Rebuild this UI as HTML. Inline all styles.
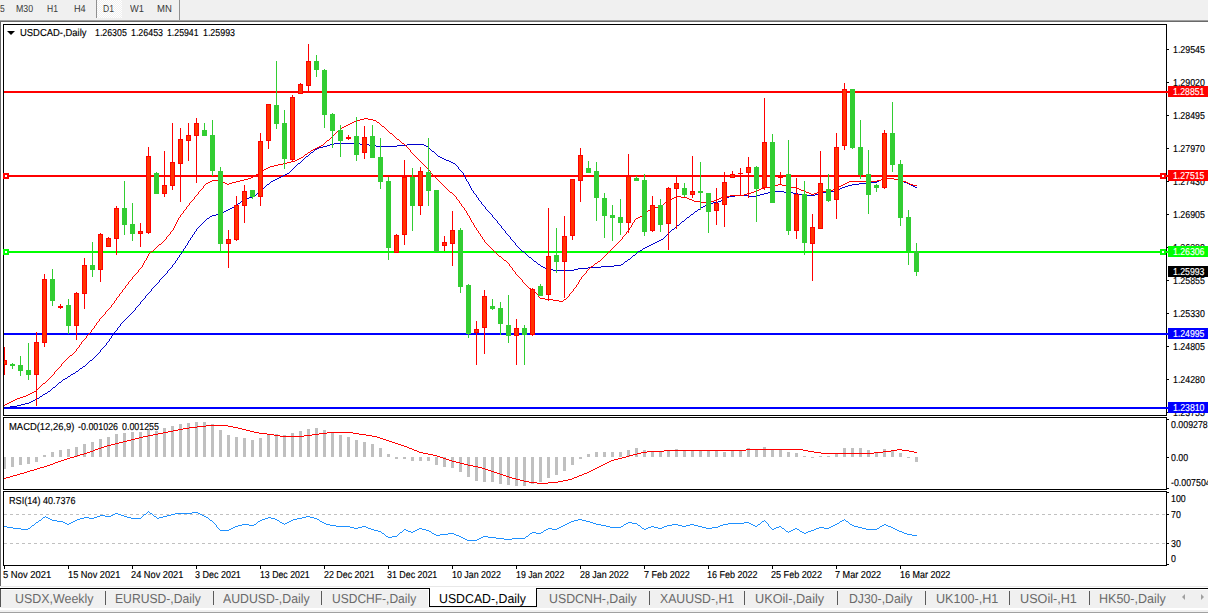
<!DOCTYPE html><html><head><meta charset="utf-8"><title>USDCAD-,Daily</title><style>
html,body{margin:0;padding:0;background:#fff;overflow:hidden}
body{width:1208px;height:615px;position:relative;font-family:"Liberation Sans",sans-serif;}
#toolbar{position:absolute;left:0;top:0;width:1208px;height:20px;background:#f0f0f0}
#tbline1{position:absolute;left:0;top:20px;width:1208px;height:1px;background:#a0a0a0}
#tbline2{position:absolute;left:0;top:21px;width:1208px;height:1px;background:#696969}
#lborder{position:absolute;left:0;top:22px;width:1px;height:564px;background:#696969}
.sep{position:absolute;top:0;width:1px;background:#909090}
#d1{position:absolute;left:97px;top:0;width:25px;height:18px;background:#f0f0f0 conic-gradient(#fff 25%,#f0f0f0 0 50%,#fff 0 75%,#f0f0f0 0) 0 0/2px 2px}
svg{position:absolute;left:0;top:0}
.t{position:absolute;white-space:pre;line-height:20px;height:20px;transform-origin:0 0;text-rendering:geometricPrecision}
.pl{position:absolute;left:1168px;width:40px;height:11px;z-index:2}
#tabbar{position:absolute;left:0;top:586px;width:1208px;height:29px;background:#f0f0f0}
#tabr586{position:absolute;left:0;top:586px;width:1208px;height:1px;background:#e8e8e8}
#tabr587{position:absolute;left:0;top:587px;width:1208px;height:1px;background:#fff}
#tabline{position:absolute;left:0;top:588px;width:1208px;height:1px;background:#000}
#tabr589{position:absolute;left:1px;top:589px;width:1207px;height:1px;background:#fff}
#tablow{position:absolute;left:0;top:608px;width:1208px;height:2px;background:#fff}
#tablow2{position:absolute;left:0;top:612px;width:1208px;height:1px;background:#a0a0a0}
#tablow3{position:absolute;left:0;top:613px;width:1208px;height:2px;background:#fff}
#tableft{position:absolute;left:0;top:589px;width:1px;height:18px;background:#555}
#active{position:absolute;left:429px;top:588px;width:106px;height:18px;background:#fff;border:1px solid #000;border-top:none}
#activehl{position:absolute;left:428px;top:589px;width:1px;height:18px;background:#fff}
.tsep{position:absolute;top:591px;width:1px;height:14px;background:#5a5a5a}
.arr{position:absolute;top:594px;width:0;height:0;border-top:3px solid transparent;border-bottom:3px solid transparent}

</style></head><body>
<div id="toolbar"><div class="sep" style="left:96px;height:18px"></div><div id="d1"></div><div class="sep" style="left:179px;height:20px"></div></div>
<div id="tbline1"></div><div id="tbline2"></div><div id="lborder"></div>
<svg width="1208" height="615" viewBox="0 0 1208 615" shape-rendering="crispEdges">
<rect x="4" y="91" width="1162" height="2" fill="#ff0000"/>
<rect x="4" y="175" width="1162" height="2" fill="#ff0000"/>
<rect x="4" y="251" width="1162" height="2" fill="#00ff00"/>
<rect x="4" y="333" width="1162" height="2" fill="#0000ff"/>
<rect x="4" y="407" width="1162" height="2" fill="#0000ff"/>
<path d="M334 143h26v1h-26zM330 144h4v1h-4zM360 144h9v1h-9zM407 144h17v1h-17zM327 145h3v1h-3zM369 145h7v1h-7zM397 145h10v1h-10zM424 145h2v1h-2zM323 146h4v1h-4zM376 146h21v1h-21zM426 146h2v1h-2zM319 147h4v1h-4zM428 147h1v1h-1zM317 148h2v1h-2zM429 148h1v1h-1zM315 149h2v1h-2zM430 149h1v1h-1zM314 150h1v1h-1zM431 150h1v1h-1zM313 151h1v1h-1zM432 151h2v1h-2zM311 152h2v1h-2zM434 152h1v1h-1zM310 153h1v1h-1zM435 153h1v1h-1zM309 154h1v1h-1zM436 154h1v1h-1zM308 155h1v1h-1zM437 155h1v1h-1zM306 156h2v1h-2zM438 156h2v1h-2zM305 157h1v1h-1zM440 157h2v1h-2zM304 158h1v1h-1zM442 158h2v1h-2zM303 159h1v1h-1zM444 159h2v1h-2zM302 160h1v1h-1zM446 160h3v1h-3zM301 161h1v1h-1zM449 161h2v1h-2zM300 162h1v1h-1zM451 162h2v1h-2zM298 163h2v1h-2zM453 163h2v1h-2zM297 164h1v1h-1zM455 164h1v1h-1zM296 165h1v1h-1zM456 165h1v1h-1zM295 166h1v1h-1zM457 166h1v1h-1zM294 167h1v1h-1zM458 167h1v2h-1zM293 168h1v1h-1zM292 169h1v1h-1zM459 169h1v1h-1zM291 170h1v1h-1zM460 170h1v1h-1zM290 171h1v1h-1zM461 171h1v1h-1zM289 172h1v1h-1zM462 172h1v1h-1zM287 173h2v1h-2zM463 173h1v2h-1zM285 174h2v1h-2zM283 175h2v1h-2zM464 175h1v2h-1zM281 176h2v1h-2zM279 177h2v1h-2zM465 177h1v2h-1zM277 178h2v1h-2zM886 178h8v1h-8zM275 179h2v1h-2zM466 179h1v2h-1zM881 179h5v1h-5zM894 179h5v1h-5zM273 180h2v1h-2zM879 180h2v1h-2zM899 180h2v1h-2zM271 181h2v1h-2zM467 181h1v1h-1zM877 181h2v1h-2zM901 181h3v1h-3zM270 182h1v1h-1zM468 182h1v2h-1zM870 182h7v1h-7zM904 182h3v1h-3zM269 183h1v1h-1zM859 183h11v1h-11zM907 183h2v1h-2zM267 184h2v1h-2zM469 184h1v2h-1zM852 184h7v1h-7zM909 184h2v1h-2zM266 185h1v1h-1zM848 185h4v1h-4zM911 185h2v1h-2zM265 186h1v1h-1zM470 186h1v2h-1zM845 186h3v1h-3zM913 186h2v1h-2zM264 187h1v1h-1zM842 187h3v1h-3zM915 187h2v1h-2zM262 188h2v1h-2zM471 188h1v2h-1zM840 188h2v1h-2zM261 189h1v1h-1zM838 189h2v1h-2zM260 190h1v1h-1zM472 190h1v1h-1zM836 190h2v1h-2zM259 191h1v1h-1zM473 191h1v2h-1zM774 191h10v1h-10zM830 191h6v1h-6zM258 192h1v1h-1zM768 192h6v1h-6zM784 192h9v1h-9zM823 192h7v1h-7zM257 193h1v1h-1zM474 193h1v1h-1zM764 193h4v1h-4zM793 193h5v1h-5zM819 193h4v1h-4zM256 194h1v1h-1zM475 194h1v1h-1zM760 194h4v1h-4zM798 194h8v1h-8zM815 194h4v1h-4zM255 195h1v1h-1zM476 195h1v2h-1zM735 195h13v1h-13zM757 195h3v1h-3zM806 195h9v1h-9zM253 196h2v1h-2zM729 196h6v1h-6zM748 196h9v1h-9zM249 197h4v1h-4zM477 197h1v1h-1zM727 197h2v1h-2zM247 198h2v1h-2zM478 198h1v2h-1zM725 198h2v1h-2zM245 199h2v1h-2zM723 199h2v1h-2zM243 200h2v1h-2zM479 200h1v1h-1zM721 200h2v1h-2zM241 201h2v1h-2zM480 201h1v1h-1zM718 201h3v1h-3zM240 202h1v1h-1zM481 202h1v2h-1zM713 202h5v1h-5zM238 203h2v1h-2zM709 203h4v1h-4zM237 204h1v1h-1zM482 204h1v1h-1zM707 204h2v1h-2zM235 205h2v1h-2zM483 205h1v1h-1zM705 205h2v1h-2zM234 206h1v1h-1zM484 206h1v1h-1zM703 206h2v1h-2zM232 207h2v1h-2zM485 207h1v2h-1zM701 207h2v1h-2zM230 208h2v1h-2zM700 208h1v1h-1zM228 209h2v1h-2zM486 209h1v1h-1zM698 209h2v1h-2zM226 210h2v1h-2zM487 210h1v1h-1zM697 210h1v1h-1zM224 211h2v1h-2zM488 211h1v1h-1zM695 211h2v1h-2zM222 212h2v1h-2zM489 212h1v1h-1zM694 212h1v1h-1zM220 213h2v1h-2zM490 213h1v1h-1zM693 213h1v1h-1zM216 214h4v1h-4zM491 214h1v1h-1zM691 214h2v1h-2zM212 215h4v1h-4zM492 215h1v2h-1zM690 215h1v1h-1zM210 216h2v1h-2zM689 216h1v1h-1zM209 217h1v1h-1zM493 217h1v1h-1zM687 217h2v1h-2zM207 218h2v1h-2zM494 218h1v1h-1zM686 218h1v1h-1zM206 219h1v1h-1zM495 219h1v1h-1zM685 219h1v1h-1zM205 220h1v1h-1zM496 220h1v1h-1zM684 220h1v1h-1zM204 221h1v1h-1zM497 221h1v2h-1zM682 221h2v1h-2zM203 222h1v1h-1zM681 222h1v1h-1zM202 223h1v1h-1zM498 223h1v1h-1zM680 223h1v1h-1zM201 224h1v1h-1zM499 224h1v1h-1zM679 224h1v1h-1zM200 225h1v1h-1zM500 225h1v1h-1zM677 225h2v1h-2zM199 226h1v1h-1zM501 226h1v2h-1zM676 226h1v1h-1zM198 227h1v1h-1zM675 227h1v1h-1zM197 228h1v1h-1zM502 228h1v1h-1zM674 228h1v1h-1zM196 229h1v2h-1zM503 229h1v1h-1zM672 229h2v1h-2zM504 230h1v1h-1zM671 230h1v1h-1zM195 231h1v1h-1zM505 231h1v2h-1zM670 231h1v1h-1zM194 232h1v2h-1zM669 232h1v1h-1zM506 233h1v1h-1zM668 233h1v1h-1zM193 234h1v1h-1zM507 234h1v1h-1zM667 234h1v1h-1zM192 235h1v2h-1zM508 235h1v1h-1zM666 235h1v1h-1zM509 236h1v1h-1zM665 236h1v1h-1zM191 237h1v1h-1zM510 237h1v2h-1zM664 237h1v1h-1zM190 238h1v2h-1zM663 238h1v1h-1zM511 239h1v1h-1zM661 239h2v1h-2zM189 240h1v1h-1zM512 240h1v1h-1zM659 240h2v1h-2zM188 241h1v2h-1zM513 241h1v1h-1zM657 241h2v1h-2zM514 242h1v1h-1zM655 242h2v1h-2zM187 243h1v2h-1zM515 243h1v2h-1zM653 243h2v1h-2zM651 244h2v1h-2zM186 245h1v1h-1zM516 245h1v1h-1zM649 245h2v1h-2zM185 246h1v2h-1zM517 246h1v1h-1zM647 246h2v1h-2zM518 247h1v1h-1zM645 247h2v1h-2zM184 248h1v1h-1zM519 248h1v1h-1zM643 248h2v1h-2zM183 249h1v2h-1zM520 249h1v1h-1zM642 249h1v1h-1zM521 250h1v1h-1zM640 250h2v1h-2zM182 251h1v1h-1zM522 251h2v1h-2zM638 251h2v1h-2zM181 252h1v2h-1zM524 252h1v1h-1zM637 252h1v1h-1zM525 253h1v1h-1zM636 253h1v1h-1zM180 254h1v1h-1zM526 254h1v1h-1zM635 254h1v1h-1zM179 255h1v2h-1zM527 255h1v1h-1zM633 255h2v1h-2zM528 256h1v1h-1zM632 256h1v1h-1zM178 257h1v1h-1zM529 257h2v1h-2zM631 257h1v1h-1zM177 258h1v2h-1zM531 258h1v1h-1zM630 258h1v1h-1zM532 259h1v1h-1zM628 259h2v1h-2zM176 260h1v1h-1zM533 260h1v1h-1zM627 260h1v1h-1zM175 261h1v2h-1zM534 261h2v1h-2zM625 261h2v1h-2zM536 262h1v1h-1zM624 262h1v1h-1zM174 263h1v1h-1zM537 263h1v1h-1zM623 263h1v1h-1zM173 264h1v1h-1zM538 264h2v1h-2zM621 264h2v1h-2zM172 265h1v2h-1zM540 265h1v1h-1zM614 265h7v1h-7zM541 266h2v1h-2zM601 266h13v1h-13zM171 267h1v1h-1zM543 267h2v1h-2zM588 267h13v1h-13zM170 268h1v1h-1zM545 268h3v1h-3zM578 268h10v1h-10zM169 269h1v1h-1zM548 269h5v1h-5zM574 269h4v1h-4zM168 270h1v1h-1zM553 270h21v1h-21zM167 271h1v2h-1zM166 273h1v1h-1zM165 274h1v1h-1zM164 275h1v1h-1zM163 276h1v1h-1zM162 277h1v1h-1zM161 278h1v1h-1zM160 279h1v1h-1zM159 280h1v2h-1zM158 282h1v1h-1zM157 283h1v1h-1zM156 284h1v1h-1zM155 285h1v1h-1zM154 286h1v1h-1zM153 287h1v1h-1zM152 288h1v1h-1zM151 289h1v2h-1zM150 291h1v1h-1zM149 292h1v1h-1zM148 293h1v1h-1zM147 294h1v1h-1zM146 295h1v1h-1zM145 296h1v2h-1zM144 298h1v1h-1zM143 299h1v1h-1zM142 300h1v1h-1zM141 301h1v1h-1zM140 302h1v2h-1zM139 304h1v1h-1zM138 305h1v1h-1zM137 306h1v1h-1zM136 307h1v1h-1zM135 308h1v2h-1zM134 310h1v1h-1zM133 311h1v1h-1zM132 312h1v1h-1zM131 313h1v1h-1zM130 314h1v1h-1zM129 315h1v1h-1zM128 316h1v1h-1zM127 317h1v1h-1zM126 318h1v1h-1zM125 319h1v1h-1zM124 320h1v1h-1zM123 321h1v1h-1zM122 322h1v1h-1zM121 323h1v1h-1zM120 324h1v2h-1zM119 326h1v1h-1zM118 327h1v1h-1zM117 328h1v2h-1zM116 330h1v1h-1zM115 331h1v1h-1zM114 332h1v2h-1zM113 334h1v1h-1zM112 335h1v1h-1zM111 336h1v2h-1zM110 338h1v1h-1zM109 339h1v2h-1zM108 341h1v1h-1zM107 342h1v1h-1zM106 343h1v2h-1zM105 345h1v1h-1zM104 346h1v1h-1zM103 347h1v1h-1zM102 348h1v1h-1zM101 349h1v1h-1zM100 350h1v2h-1zM99 352h1v1h-1zM98 353h1v1h-1zM97 354h1v1h-1zM96 355h1v1h-1zM95 356h1v1h-1zM94 357h1v1h-1zM93 358h1v1h-1zM92 359h1v1h-1zM90 360h2v1h-2zM89 361h1v1h-1zM88 362h1v1h-1zM87 363h1v1h-1zM86 364h1v1h-1zM85 365h1v1h-1zM83 366h2v1h-2zM82 367h1v1h-1zM80 368h2v1h-2zM79 369h1v1h-1zM78 370h1v1h-1zM76 371h2v1h-2zM75 372h1v1h-1zM73 373h2v1h-2zM71 374h2v1h-2zM70 375h1v1h-1zM68 376h2v1h-2zM67 377h1v1h-1zM65 378h2v1h-2zM63 379h2v1h-2zM62 380h1v1h-1zM61 381h1v1h-1zM59 382h2v1h-2zM58 383h1v1h-1zM57 384h1v1h-1zM56 385h1v1h-1zM55 386h1v1h-1zM53 387h2v1h-2zM52 388h1v1h-1zM51 389h1v1h-1zM50 390h1v1h-1zM48 391h2v1h-2zM47 392h1v1h-1zM45 393h2v1h-2zM43 394h2v1h-2zM42 395h1v1h-1zM40 396h2v1h-2zM39 397h1v1h-1zM37 398h2v1h-2zM35 399h2v1h-2zM33 400h2v1h-2zM31 401h2v1h-2zM29 402h2v1h-2zM25 403h4v1h-4zM21 404h4v1h-4zM17 405h4v1h-4zM10 406h7v1h-7zM4 407h6v1h-6z" fill="#0000cc"/>
<path d="M364 118h4v1h-4zM360 119h4v1h-4zM368 119h5v1h-5zM357 120h3v1h-3zM373 120h3v1h-3zM354 121h3v1h-3zM376 121h1v1h-1zM352 122h2v1h-2zM377 122h2v1h-2zM350 123h2v1h-2zM379 123h1v1h-1zM348 124h2v1h-2zM380 124h1v1h-1zM346 125h2v1h-2zM381 125h1v1h-1zM344 126h2v1h-2zM382 126h2v1h-2zM342 127h2v1h-2zM384 127h1v1h-1zM341 128h1v1h-1zM385 128h1v1h-1zM340 129h1v1h-1zM386 129h1v1h-1zM339 130h1v1h-1zM387 130h1v1h-1zM337 131h2v1h-2zM388 131h1v1h-1zM336 132h1v1h-1zM389 132h1v1h-1zM335 133h1v1h-1zM390 133h2v1h-2zM334 134h1v1h-1zM392 134h1v1h-1zM333 135h1v1h-1zM393 135h1v1h-1zM332 136h1v1h-1zM394 136h1v1h-1zM331 137h1v1h-1zM395 137h1v1h-1zM330 138h1v1h-1zM396 138h1v1h-1zM329 139h1v1h-1zM397 139h2v1h-2zM327 140h2v1h-2zM399 140h1v1h-1zM326 141h1v1h-1zM400 141h1v1h-1zM325 142h1v1h-1zM401 142h1v1h-1zM324 143h1v1h-1zM402 143h2v1h-2zM323 144h1v1h-1zM404 144h1v1h-1zM321 145h2v1h-2zM405 145h1v1h-1zM319 146h2v1h-2zM406 146h1v1h-1zM317 147h2v1h-2zM407 147h1v1h-1zM315 148h2v1h-2zM408 148h1v1h-1zM313 149h2v1h-2zM409 149h1v1h-1zM311 150h2v1h-2zM410 150h1v2h-1zM310 151h1v1h-1zM308 152h2v1h-2zM411 152h1v1h-1zM307 153h1v1h-1zM412 153h1v1h-1zM305 154h2v1h-2zM413 154h1v1h-1zM304 155h1v1h-1zM414 155h1v1h-1zM303 156h1v1h-1zM415 156h1v1h-1zM301 157h2v1h-2zM416 157h1v1h-1zM299 158h2v1h-2zM417 158h1v1h-1zM297 159h2v1h-2zM418 159h1v1h-1zM295 160h2v1h-2zM419 160h1v1h-1zM291 161h4v1h-4zM420 161h1v1h-1zM287 162h4v1h-4zM421 162h1v1h-1zM283 163h4v1h-4zM422 163h1v1h-1zM278 164h5v1h-5zM423 164h1v1h-1zM274 165h4v1h-4zM424 165h1v1h-1zM270 166h4v1h-4zM425 166h1v1h-1zM268 167h2v1h-2zM426 167h1v1h-1zM266 168h2v1h-2zM427 168h1v1h-1zM264 169h2v1h-2zM428 169h1v1h-1zM263 170h1v1h-1zM429 170h1v1h-1zM261 171h2v1h-2zM430 171h1v2h-1zM260 172h1v1h-1zM258 173h2v1h-2zM431 173h1v1h-1zM256 174h2v1h-2zM432 174h1v1h-1zM255 175h1v1h-1zM433 175h1v1h-1zM253 176h2v1h-2zM434 176h1v1h-1zM251 177h2v1h-2zM435 177h1v1h-1zM248 178h3v1h-3zM436 178h1v1h-1zM886 178h8v1h-8zM244 179h4v1h-4zM437 179h1v1h-1zM881 179h5v1h-5zM894 179h5v1h-5zM212 180h9v1h-9zM240 180h4v1h-4zM438 180h1v1h-1zM877 180h4v1h-4zM899 180h4v1h-4zM210 181h2v1h-2zM221 181h2v1h-2zM236 181h4v1h-4zM439 181h1v1h-1zM849 181h28v1h-28zM903 181h3v1h-3zM208 182h2v1h-2zM223 182h2v1h-2zM232 182h4v1h-4zM440 182h1v1h-1zM847 182h2v1h-2zM906 182h2v1h-2zM206 183h2v1h-2zM225 183h2v1h-2zM229 183h3v1h-3zM441 183h1v1h-1zM845 183h2v1h-2zM908 183h2v1h-2zM205 184h1v1h-1zM227 184h2v1h-2zM442 184h1v1h-1zM778 184h4v1h-4zM843 184h2v1h-2zM910 184h3v1h-3zM204 185h1v1h-1zM443 185h1v1h-1zM774 185h4v1h-4zM782 185h4v1h-4zM841 185h2v1h-2zM913 185h4v1h-4zM203 186h1v2h-1zM444 186h1v1h-1zM770 186h4v1h-4zM786 186h5v1h-5zM839 186h2v1h-2zM445 187h1v1h-1zM765 187h5v1h-5zM791 187h6v1h-6zM837 187h2v1h-2zM202 188h1v1h-1zM446 188h1v1h-1zM761 188h4v1h-4zM797 188h2v1h-2zM835 188h2v1h-2zM201 189h1v1h-1zM447 189h1v1h-1zM759 189h2v1h-2zM799 189h2v1h-2zM833 189h2v1h-2zM200 190h1v1h-1zM448 190h1v1h-1zM756 190h3v1h-3zM801 190h3v1h-3zM827 190h6v1h-6zM199 191h1v1h-1zM449 191h1v1h-1zM754 191h2v1h-2zM804 191h2v1h-2zM821 191h6v1h-6zM198 192h1v2h-1zM450 192h2v1h-2zM751 192h3v1h-3zM806 192h3v1h-3zM817 192h4v1h-4zM452 193h1v1h-1zM747 193h4v1h-4zM809 193h2v1h-2zM814 193h3v1h-3zM197 194h1v1h-1zM453 194h1v1h-1zM744 194h3v1h-3zM811 194h3v1h-3zM196 195h1v1h-1zM454 195h1v1h-1zM730 195h14v1h-14zM195 196h1v1h-1zM455 196h1v1h-1zM676 196h5v1h-5zM725 196h5v1h-5zM194 197h1v2h-1zM456 197h1v2h-1zM674 197h2v1h-2zM681 197h6v1h-6zM721 197h4v1h-4zM672 198h2v1h-2zM687 198h2v1h-2zM719 198h2v1h-2zM193 199h1v1h-1zM457 199h1v1h-1zM670 199h2v1h-2zM689 199h3v1h-3zM716 199h3v1h-3zM192 200h1v1h-1zM458 200h1v1h-1zM668 200h2v1h-2zM692 200h2v1h-2zM714 200h2v1h-2zM191 201h1v1h-1zM459 201h1v2h-1zM667 201h1v1h-1zM694 201h6v1h-6zM709 201h5v1h-5zM190 202h1v1h-1zM665 202h2v1h-2zM700 202h9v1h-9zM189 203h1v2h-1zM460 203h1v1h-1zM664 203h1v1h-1zM461 204h1v2h-1zM663 204h1v1h-1zM188 205h1v1h-1zM661 205h2v1h-2zM187 206h1v1h-1zM462 206h1v1h-1zM659 206h2v1h-2zM186 207h1v2h-1zM463 207h1v1h-1zM655 207h4v1h-4zM464 208h1v2h-1zM652 208h3v1h-3zM185 209h1v1h-1zM650 209h2v1h-2zM184 210h1v1h-1zM465 210h1v1h-1zM648 210h2v1h-2zM183 211h1v2h-1zM466 211h1v2h-1zM647 211h1v1h-1zM646 212h1v1h-1zM182 213h1v1h-1zM467 213h1v2h-1zM644 213h2v1h-2zM181 214h1v1h-1zM643 214h1v1h-1zM180 215h1v2h-1zM468 215h1v1h-1zM642 215h1v1h-1zM469 216h1v2h-1zM640 216h2v1h-2zM179 217h1v1h-1zM638 217h2v1h-2zM178 218h1v2h-1zM470 218h1v2h-1zM636 218h2v1h-2zM635 219h1v1h-1zM177 220h1v2h-1zM471 220h1v2h-1zM634 220h1v2h-1zM176 222h1v2h-1zM472 222h1v1h-1zM633 222h1v1h-1zM473 223h1v2h-1zM632 223h1v2h-1zM175 224h1v2h-1zM474 225h1v2h-1zM631 225h1v2h-1zM174 226h1v2h-1zM475 227h1v1h-1zM630 227h1v1h-1zM173 228h1v2h-1zM476 228h1v2h-1zM629 228h1v2h-1zM172 230h1v1h-1zM477 230h1v1h-1zM628 230h1v1h-1zM171 231h1v1h-1zM478 231h1v2h-1zM627 231h1v1h-1zM170 232h1v2h-1zM626 232h1v2h-1zM479 233h1v1h-1zM169 234h1v1h-1zM480 234h1v2h-1zM625 234h1v1h-1zM168 235h1v1h-1zM624 235h1v1h-1zM167 236h1v1h-1zM481 236h1v1h-1zM623 236h1v1h-1zM166 237h1v2h-1zM482 237h1v2h-1zM622 237h1v2h-1zM165 239h1v1h-1zM483 239h1v1h-1zM621 239h1v1h-1zM164 240h1v1h-1zM484 240h1v2h-1zM620 240h1v1h-1zM163 241h1v1h-1zM619 241h1v1h-1zM162 242h1v1h-1zM485 242h1v1h-1zM618 242h1v1h-1zM161 243h1v1h-1zM486 243h1v1h-1zM617 243h1v1h-1zM159 244h2v1h-2zM487 244h1v1h-1zM616 244h1v1h-1zM158 245h1v1h-1zM488 245h1v1h-1zM615 245h1v1h-1zM157 246h1v1h-1zM489 246h1v1h-1zM614 246h1v1h-1zM156 247h1v1h-1zM490 247h1v1h-1zM613 247h1v1h-1zM155 248h1v1h-1zM491 248h1v1h-1zM612 248h1v1h-1zM154 249h1v1h-1zM492 249h1v1h-1zM611 249h1v1h-1zM153 250h1v1h-1zM493 250h1v1h-1zM610 250h1v1h-1zM151 251h2v1h-2zM494 251h1v1h-1zM609 251h1v1h-1zM150 252h1v1h-1zM495 252h1v1h-1zM608 252h1v1h-1zM149 253h1v1h-1zM496 253h1v1h-1zM607 253h1v1h-1zM148 254h1v2h-1zM497 254h1v1h-1zM606 254h1v1h-1zM498 255h1v1h-1zM605 255h1v1h-1zM147 256h1v2h-1zM499 256h2v1h-2zM604 256h1v1h-1zM501 257h1v1h-1zM603 257h1v1h-1zM146 258h1v2h-1zM502 258h1v1h-1zM602 258h1v1h-1zM503 259h1v1h-1zM601 259h1v1h-1zM145 260h1v1h-1zM504 260h2v1h-2zM600 260h1v1h-1zM144 261h1v2h-1zM506 261h1v1h-1zM598 261h2v1h-2zM507 262h1v1h-1zM597 262h1v1h-1zM143 263h1v2h-1zM508 263h1v1h-1zM595 263h2v1h-2zM509 264h1v2h-1zM594 264h1v1h-1zM142 265h1v2h-1zM593 265h1v1h-1zM510 266h1v1h-1zM591 266h2v1h-2zM141 267h1v1h-1zM511 267h1v1h-1zM590 267h1v1h-1zM140 268h1v1h-1zM512 268h1v2h-1zM589 268h1v1h-1zM139 269h1v1h-1zM588 269h1v1h-1zM138 270h1v2h-1zM513 270h1v1h-1zM587 270h1v1h-1zM514 271h1v1h-1zM586 271h1v2h-1zM137 272h1v1h-1zM515 272h1v2h-1zM136 273h1v1h-1zM585 273h1v1h-1zM135 274h1v1h-1zM516 274h1v1h-1zM584 274h1v1h-1zM134 275h1v1h-1zM517 275h1v1h-1zM583 275h1v1h-1zM133 276h1v1h-1zM518 276h1v1h-1zM582 276h1v1h-1zM132 277h1v2h-1zM519 277h1v1h-1zM581 277h1v2h-1zM520 278h1v1h-1zM131 279h1v1h-1zM521 279h1v1h-1zM580 279h1v1h-1zM130 280h1v1h-1zM522 280h1v2h-1zM579 280h1v2h-1zM129 281h1v1h-1zM128 282h1v2h-1zM523 282h1v1h-1zM578 282h1v2h-1zM524 283h1v1h-1zM127 284h1v1h-1zM525 284h1v1h-1zM577 284h1v1h-1zM126 285h1v1h-1zM526 285h1v1h-1zM576 285h1v2h-1zM125 286h1v2h-1zM527 286h1v1h-1zM528 287h1v1h-1zM575 287h1v1h-1zM124 288h1v1h-1zM529 288h2v1h-2zM574 288h1v1h-1zM123 289h1v1h-1zM531 289h1v1h-1zM573 289h1v2h-1zM122 290h1v2h-1zM532 290h1v1h-1zM533 291h2v1h-2zM572 291h1v1h-1zM121 292h1v1h-1zM535 292h1v1h-1zM571 292h1v1h-1zM120 293h1v1h-1zM536 293h1v1h-1zM570 293h1v1h-1zM119 294h1v2h-1zM537 294h1v1h-1zM569 294h1v2h-1zM538 295h1v2h-1zM118 296h1v1h-1zM568 296h1v1h-1zM117 297h1v1h-1zM539 297h1v1h-1zM567 297h1v1h-1zM116 298h1v2h-1zM540 298h5v1h-5zM566 298h1v1h-1zM545 299h8v1h-8zM564 299h2v1h-2zM115 300h1v1h-1zM553 300h6v1h-6zM563 300h1v1h-1zM114 301h1v2h-1zM559 301h4v1h-4zM113 303h1v1h-1zM112 304h1v1h-1zM111 305h1v2h-1zM110 307h1v1h-1zM109 308h1v1h-1zM108 309h1v1h-1zM107 310h1v1h-1zM106 311h1v1h-1zM105 312h1v2h-1zM104 314h1v1h-1zM103 315h1v1h-1zM102 316h1v1h-1zM101 317h1v1h-1zM100 318h1v1h-1zM99 319h1v2h-1zM98 321h1v1h-1zM97 322h1v1h-1zM96 323h1v2h-1zM95 325h1v1h-1zM94 326h1v2h-1zM93 328h1v1h-1zM92 329h1v1h-1zM91 330h1v2h-1zM90 332h1v1h-1zM89 333h1v1h-1zM88 334h1v1h-1zM87 335h1v1h-1zM86 336h1v2h-1zM85 338h1v1h-1zM84 339h1v1h-1zM83 340h1v1h-1zM82 341h1v1h-1zM81 342h1v2h-1zM80 344h1v1h-1zM79 345h1v2h-1zM78 347h1v1h-1zM77 348h1v1h-1zM76 349h1v2h-1zM75 351h1v1h-1zM74 352h1v1h-1zM73 353h1v1h-1zM72 354h1v1h-1zM70 355h2v1h-2zM69 356h1v1h-1zM68 357h1v1h-1zM67 358h1v1h-1zM66 359h1v1h-1zM65 360h1v1h-1zM64 361h1v1h-1zM63 362h1v1h-1zM62 363h1v1h-1zM61 364h1v2h-1zM60 366h1v1h-1zM59 367h1v1h-1zM58 368h1v1h-1zM57 369h1v1h-1zM56 370h1v1h-1zM55 371h1v1h-1zM54 372h1v2h-1zM53 374h1v1h-1zM52 375h1v1h-1zM51 376h1v1h-1zM50 377h1v1h-1zM49 378h1v1h-1zM48 379h1v1h-1zM47 380h1v1h-1zM46 381h1v1h-1zM45 382h1v1h-1zM43 383h2v1h-2zM42 384h1v1h-1zM41 385h1v1h-1zM40 386h1v1h-1zM39 387h1v1h-1zM38 388h1v1h-1zM37 389h1v1h-1zM36 390h1v1h-1zM34 391h2v1h-2zM32 392h2v1h-2zM30 393h2v1h-2zM28 394h2v1h-2zM26 395h2v1h-2zM23 396h3v1h-3zM20 397h3v1h-3zM17 398h3v1h-3zM15 399h2v1h-2zM13 400h2v1h-2zM11 401h2v1h-2zM9 402h2v1h-2zM7 403h2v1h-2zM5 404h2v1h-2zM4 405h1v1h-1z" fill="#ff0000"/>
<rect x="4" y="347" width="1" height="28" fill="#ff0000"/>
<rect x="4" y="360" width="3" height="5" fill="#ff0000"/>
<rect x="4" y="361" width="2" height="3" fill="#ff3300"/>
<rect x="12" y="363" width="1" height="6" fill="#32cd32"/>
<rect x="10" y="364" width="5" height="2" fill="#32cd32"/>
<rect x="20" y="356" width="1" height="20" fill="#32cd32"/>
<rect x="18" y="365" width="5" height="6" fill="#32cd32"/>
<rect x="28" y="343" width="1" height="37" fill="#32cd32"/>
<rect x="26" y="370" width="5" height="5" fill="#32cd32"/>
<rect x="36" y="332" width="1" height="74" fill="#ff0000"/>
<rect x="34" y="342" width="5" height="33" fill="#ff0000"/>
<rect x="35" y="343" width="3" height="31" fill="#ff3300"/>
<rect x="44" y="274" width="1" height="73" fill="#ff0000"/>
<rect x="42" y="279" width="5" height="64" fill="#ff0000"/>
<rect x="43" y="280" width="3" height="62" fill="#ff3300"/>
<rect x="52" y="269" width="1" height="37" fill="#32cd32"/>
<rect x="50" y="279" width="5" height="22" fill="#32cd32"/>
<rect x="60" y="304" width="1" height="5" fill="#ff0000"/>
<rect x="58" y="306" width="5" height="2" fill="#ff0000"/>
<rect x="68" y="299" width="1" height="35" fill="#32cd32"/>
<rect x="66" y="305" width="5" height="21" fill="#32cd32"/>
<rect x="76" y="292" width="1" height="48" fill="#ff0000"/>
<rect x="74" y="293" width="5" height="33" fill="#ff0000"/>
<rect x="75" y="294" width="3" height="31" fill="#ff3300"/>
<rect x="84" y="258" width="1" height="51" fill="#ff0000"/>
<rect x="82" y="265" width="5" height="29" fill="#ff0000"/>
<rect x="83" y="266" width="3" height="27" fill="#ff3300"/>
<rect x="92" y="242" width="1" height="35" fill="#32cd32"/>
<rect x="90" y="265" width="5" height="5" fill="#32cd32"/>
<rect x="100" y="233" width="1" height="49" fill="#ff0000"/>
<rect x="98" y="234" width="5" height="36" fill="#ff0000"/>
<rect x="99" y="235" width="3" height="34" fill="#ff3300"/>
<rect x="108" y="237" width="1" height="10" fill="#ff0000"/>
<rect x="106" y="238" width="5" height="9" fill="#ff0000"/>
<rect x="107" y="239" width="3" height="7" fill="#ff3300"/>
<rect x="116" y="206" width="1" height="49" fill="#ff0000"/>
<rect x="114" y="208" width="5" height="31" fill="#ff0000"/>
<rect x="115" y="209" width="3" height="29" fill="#ff3300"/>
<rect x="124" y="181" width="1" height="54" fill="#32cd32"/>
<rect x="122" y="208" width="5" height="17" fill="#32cd32"/>
<rect x="132" y="203" width="1" height="38" fill="#32cd32"/>
<rect x="130" y="224" width="5" height="10" fill="#32cd32"/>
<rect x="140" y="223" width="1" height="24" fill="#ff0000"/>
<rect x="138" y="231" width="5" height="3" fill="#ff0000"/>
<rect x="139" y="232" width="3" height="1" fill="#ff3300"/>
<rect x="148" y="147" width="1" height="87" fill="#ff0000"/>
<rect x="146" y="156" width="5" height="77" fill="#ff0000"/>
<rect x="147" y="157" width="3" height="75" fill="#ff3300"/>
<rect x="156" y="172" width="1" height="22" fill="#32cd32"/>
<rect x="154" y="173" width="5" height="21" fill="#32cd32"/>
<rect x="164" y="151" width="1" height="46" fill="#ff0000"/>
<rect x="162" y="185" width="5" height="9" fill="#ff0000"/>
<rect x="163" y="186" width="3" height="7" fill="#ff3300"/>
<rect x="172" y="123" width="1" height="67" fill="#ff0000"/>
<rect x="170" y="162" width="5" height="24" fill="#ff0000"/>
<rect x="171" y="163" width="3" height="22" fill="#ff3300"/>
<rect x="180" y="128" width="1" height="74" fill="#ff0000"/>
<rect x="178" y="139" width="5" height="25" fill="#ff0000"/>
<rect x="179" y="140" width="3" height="23" fill="#ff3300"/>
<rect x="188" y="123" width="1" height="38" fill="#ff0000"/>
<rect x="186" y="135" width="5" height="6" fill="#ff0000"/>
<rect x="187" y="136" width="3" height="4" fill="#ff3300"/>
<rect x="196" y="118" width="1" height="65" fill="#ff0000"/>
<rect x="194" y="123" width="5" height="13" fill="#ff0000"/>
<rect x="195" y="124" width="3" height="11" fill="#ff3300"/>
<rect x="204" y="123" width="1" height="13" fill="#32cd32"/>
<rect x="202" y="130" width="5" height="6" fill="#32cd32"/>
<rect x="212" y="120" width="1" height="56" fill="#32cd32"/>
<rect x="210" y="135" width="5" height="36" fill="#32cd32"/>
<rect x="220" y="167" width="1" height="85" fill="#32cd32"/>
<rect x="218" y="171" width="5" height="73" fill="#32cd32"/>
<rect x="228" y="230" width="1" height="38" fill="#ff0000"/>
<rect x="226" y="239" width="5" height="5" fill="#ff0000"/>
<rect x="227" y="240" width="3" height="3" fill="#ff3300"/>
<rect x="236" y="196" width="1" height="45" fill="#ff0000"/>
<rect x="234" y="205" width="5" height="35" fill="#ff0000"/>
<rect x="235" y="206" width="3" height="33" fill="#ff3300"/>
<rect x="244" y="185" width="1" height="38" fill="#ff0000"/>
<rect x="242" y="191" width="5" height="15" fill="#ff0000"/>
<rect x="243" y="192" width="3" height="13" fill="#ff3300"/>
<rect x="252" y="190" width="1" height="9" fill="#32cd32"/>
<rect x="250" y="190" width="5" height="7" fill="#32cd32"/>
<rect x="260" y="133" width="1" height="73" fill="#ff0000"/>
<rect x="258" y="141" width="5" height="56" fill="#ff0000"/>
<rect x="259" y="142" width="3" height="54" fill="#ff3300"/>
<rect x="268" y="104" width="1" height="45" fill="#ff0000"/>
<rect x="266" y="104" width="5" height="37" fill="#ff0000"/>
<rect x="267" y="105" width="3" height="35" fill="#ff3300"/>
<rect x="276" y="61" width="1" height="68" fill="#32cd32"/>
<rect x="274" y="105" width="5" height="19" fill="#32cd32"/>
<rect x="284" y="110" width="1" height="59" fill="#32cd32"/>
<rect x="282" y="123" width="5" height="36" fill="#32cd32"/>
<rect x="292" y="95" width="1" height="66" fill="#ff0000"/>
<rect x="290" y="97" width="5" height="63" fill="#ff0000"/>
<rect x="291" y="98" width="3" height="61" fill="#ff3300"/>
<rect x="300" y="83" width="1" height="11" fill="#ff0000"/>
<rect x="298" y="84" width="5" height="10" fill="#ff0000"/>
<rect x="299" y="85" width="3" height="8" fill="#ff3300"/>
<rect x="308" y="44" width="1" height="47" fill="#ff0000"/>
<rect x="306" y="61" width="5" height="25" fill="#ff0000"/>
<rect x="307" y="62" width="3" height="23" fill="#ff3300"/>
<rect x="316" y="55" width="1" height="22" fill="#32cd32"/>
<rect x="314" y="61" width="5" height="9" fill="#32cd32"/>
<rect x="324" y="69" width="1" height="59" fill="#32cd32"/>
<rect x="322" y="70" width="5" height="45" fill="#32cd32"/>
<rect x="332" y="113" width="1" height="35" fill="#32cd32"/>
<rect x="330" y="114" width="5" height="17" fill="#32cd32"/>
<rect x="340" y="125" width="1" height="32" fill="#32cd32"/>
<rect x="338" y="130" width="5" height="11" fill="#32cd32"/>
<rect x="348" y="135" width="1" height="5" fill="#ff0000"/>
<rect x="346" y="137" width="5" height="2" fill="#ff0000"/>
<rect x="356" y="117" width="1" height="44" fill="#32cd32"/>
<rect x="354" y="136" width="5" height="19" fill="#32cd32"/>
<rect x="364" y="126" width="1" height="33" fill="#ff0000"/>
<rect x="362" y="137" width="5" height="16" fill="#ff0000"/>
<rect x="363" y="138" width="3" height="14" fill="#ff3300"/>
<rect x="372" y="125" width="1" height="33" fill="#32cd32"/>
<rect x="370" y="136" width="5" height="22" fill="#32cd32"/>
<rect x="380" y="138" width="1" height="51" fill="#32cd32"/>
<rect x="378" y="157" width="5" height="25" fill="#32cd32"/>
<rect x="388" y="177" width="1" height="83" fill="#32cd32"/>
<rect x="386" y="181" width="5" height="67" fill="#32cd32"/>
<rect x="396" y="234" width="1" height="19" fill="#ff0000"/>
<rect x="394" y="235" width="5" height="18" fill="#ff0000"/>
<rect x="395" y="236" width="3" height="16" fill="#ff3300"/>
<rect x="404" y="160" width="1" height="85" fill="#ff0000"/>
<rect x="402" y="177" width="5" height="58" fill="#ff0000"/>
<rect x="403" y="178" width="3" height="56" fill="#ff3300"/>
<rect x="412" y="168" width="1" height="63" fill="#32cd32"/>
<rect x="410" y="177" width="5" height="29" fill="#32cd32"/>
<rect x="420" y="167" width="1" height="48" fill="#ff0000"/>
<rect x="418" y="171" width="5" height="35" fill="#ff0000"/>
<rect x="419" y="172" width="3" height="33" fill="#ff3300"/>
<rect x="428" y="138" width="1" height="68" fill="#32cd32"/>
<rect x="426" y="172" width="5" height="19" fill="#32cd32"/>
<rect x="436" y="190" width="1" height="62" fill="#32cd32"/>
<rect x="434" y="190" width="5" height="62" fill="#32cd32"/>
<rect x="444" y="236" width="1" height="15" fill="#ff0000"/>
<rect x="442" y="242" width="5" height="4" fill="#ff0000"/>
<rect x="443" y="243" width="3" height="2" fill="#ff3300"/>
<rect x="452" y="211" width="1" height="55" fill="#ff0000"/>
<rect x="450" y="230" width="5" height="14" fill="#ff0000"/>
<rect x="451" y="231" width="3" height="12" fill="#ff3300"/>
<rect x="460" y="228" width="1" height="65" fill="#32cd32"/>
<rect x="458" y="230" width="5" height="57" fill="#32cd32"/>
<rect x="468" y="284" width="1" height="54" fill="#32cd32"/>
<rect x="466" y="285" width="5" height="49" fill="#32cd32"/>
<rect x="476" y="321" width="1" height="44" fill="#ff0000"/>
<rect x="474" y="329" width="5" height="4" fill="#ff0000"/>
<rect x="475" y="330" width="3" height="2" fill="#ff3300"/>
<rect x="484" y="290" width="1" height="64" fill="#ff0000"/>
<rect x="482" y="296" width="5" height="32" fill="#ff0000"/>
<rect x="483" y="297" width="3" height="30" fill="#ff3300"/>
<rect x="492" y="299" width="1" height="11" fill="#32cd32"/>
<rect x="490" y="306" width="5" height="3" fill="#32cd32"/>
<rect x="500" y="302" width="1" height="33" fill="#32cd32"/>
<rect x="498" y="308" width="5" height="16" fill="#32cd32"/>
<rect x="508" y="295" width="1" height="48" fill="#32cd32"/>
<rect x="506" y="325" width="5" height="11" fill="#32cd32"/>
<rect x="516" y="319" width="1" height="46" fill="#ff0000"/>
<rect x="514" y="328" width="5" height="8" fill="#ff0000"/>
<rect x="515" y="329" width="3" height="6" fill="#ff3300"/>
<rect x="524" y="325" width="1" height="40" fill="#32cd32"/>
<rect x="522" y="328" width="5" height="7" fill="#32cd32"/>
<rect x="532" y="288" width="1" height="48" fill="#ff0000"/>
<rect x="530" y="289" width="5" height="46" fill="#ff0000"/>
<rect x="531" y="290" width="3" height="44" fill="#ff3300"/>
<rect x="540" y="284" width="1" height="12" fill="#32cd32"/>
<rect x="538" y="286" width="5" height="10" fill="#32cd32"/>
<rect x="548" y="208" width="1" height="93" fill="#ff0000"/>
<rect x="546" y="256" width="5" height="39" fill="#ff0000"/>
<rect x="547" y="257" width="3" height="37" fill="#ff3300"/>
<rect x="556" y="228" width="1" height="45" fill="#32cd32"/>
<rect x="554" y="255" width="5" height="7" fill="#32cd32"/>
<rect x="564" y="216" width="1" height="82" fill="#ff0000"/>
<rect x="562" y="236" width="5" height="26" fill="#ff0000"/>
<rect x="563" y="237" width="3" height="24" fill="#ff3300"/>
<rect x="572" y="179" width="1" height="61" fill="#ff0000"/>
<rect x="570" y="179" width="5" height="57" fill="#ff0000"/>
<rect x="571" y="180" width="3" height="55" fill="#ff3300"/>
<rect x="580" y="148" width="1" height="54" fill="#ff0000"/>
<rect x="578" y="155" width="5" height="26" fill="#ff0000"/>
<rect x="579" y="156" width="3" height="24" fill="#ff3300"/>
<rect x="588" y="161" width="1" height="12" fill="#32cd32"/>
<rect x="586" y="168" width="5" height="5" fill="#32cd32"/>
<rect x="596" y="162" width="1" height="59" fill="#32cd32"/>
<rect x="594" y="171" width="5" height="27" fill="#32cd32"/>
<rect x="604" y="193" width="1" height="45" fill="#32cd32"/>
<rect x="602" y="198" width="5" height="18" fill="#32cd32"/>
<rect x="612" y="205" width="1" height="36" fill="#32cd32"/>
<rect x="610" y="215" width="5" height="3" fill="#32cd32"/>
<rect x="620" y="199" width="1" height="36" fill="#32cd32"/>
<rect x="618" y="217" width="5" height="6" fill="#32cd32"/>
<rect x="628" y="154" width="1" height="79" fill="#ff0000"/>
<rect x="626" y="176" width="5" height="47" fill="#ff0000"/>
<rect x="627" y="177" width="3" height="45" fill="#ff3300"/>
<rect x="636" y="176" width="1" height="5" fill="#32cd32"/>
<rect x="634" y="178" width="5" height="3" fill="#32cd32"/>
<rect x="644" y="174" width="1" height="62" fill="#32cd32"/>
<rect x="642" y="180" width="5" height="52" fill="#32cd32"/>
<rect x="652" y="196" width="1" height="36" fill="#ff0000"/>
<rect x="650" y="205" width="5" height="26" fill="#ff0000"/>
<rect x="651" y="206" width="3" height="24" fill="#ff3300"/>
<rect x="660" y="199" width="1" height="33" fill="#32cd32"/>
<rect x="658" y="205" width="5" height="20" fill="#32cd32"/>
<rect x="668" y="187" width="1" height="63" fill="#ff0000"/>
<rect x="666" y="188" width="5" height="36" fill="#ff0000"/>
<rect x="667" y="189" width="3" height="34" fill="#ff3300"/>
<rect x="676" y="176" width="1" height="53" fill="#ff0000"/>
<rect x="674" y="183" width="5" height="6" fill="#ff0000"/>
<rect x="675" y="184" width="3" height="4" fill="#ff3300"/>
<rect x="684" y="183" width="1" height="14" fill="#32cd32"/>
<rect x="682" y="188" width="5" height="7" fill="#32cd32"/>
<rect x="692" y="156" width="1" height="42" fill="#ff0000"/>
<rect x="690" y="191" width="5" height="4" fill="#ff0000"/>
<rect x="691" y="192" width="3" height="2" fill="#ff3300"/>
<rect x="700" y="162" width="1" height="48" fill="#32cd32"/>
<rect x="698" y="191" width="5" height="2" fill="#32cd32"/>
<rect x="708" y="193" width="1" height="40" fill="#32cd32"/>
<rect x="706" y="193" width="5" height="19" fill="#32cd32"/>
<rect x="716" y="188" width="1" height="37" fill="#ff0000"/>
<rect x="714" y="203" width="5" height="8" fill="#ff0000"/>
<rect x="715" y="204" width="3" height="6" fill="#ff3300"/>
<rect x="724" y="172" width="1" height="55" fill="#ff0000"/>
<rect x="722" y="182" width="5" height="23" fill="#ff0000"/>
<rect x="723" y="183" width="3" height="21" fill="#ff3300"/>
<rect x="732" y="171" width="1" height="7" fill="#ff0000"/>
<rect x="730" y="174" width="5" height="4" fill="#ff0000"/>
<rect x="731" y="175" width="3" height="2" fill="#ff3300"/>
<rect x="740" y="168" width="1" height="28" fill="#ff0000"/>
<rect x="738" y="173" width="5" height="1" fill="#ff0000"/>
<rect x="748" y="157" width="1" height="41" fill="#ff0000"/>
<rect x="746" y="167" width="5" height="6" fill="#ff0000"/>
<rect x="747" y="168" width="3" height="4" fill="#ff3300"/>
<rect x="756" y="166" width="1" height="56" fill="#32cd32"/>
<rect x="754" y="167" width="5" height="22" fill="#32cd32"/>
<rect x="764" y="98" width="1" height="92" fill="#ff0000"/>
<rect x="762" y="142" width="5" height="46" fill="#ff0000"/>
<rect x="763" y="143" width="3" height="44" fill="#ff3300"/>
<rect x="772" y="134" width="1" height="69" fill="#32cd32"/>
<rect x="770" y="142" width="5" height="61" fill="#32cd32"/>
<rect x="780" y="172" width="1" height="12" fill="#ff0000"/>
<rect x="778" y="176" width="5" height="2" fill="#ff0000"/>
<rect x="788" y="140" width="1" height="95" fill="#32cd32"/>
<rect x="786" y="174" width="5" height="57" fill="#32cd32"/>
<rect x="796" y="178" width="1" height="61" fill="#ff0000"/>
<rect x="794" y="194" width="5" height="37" fill="#ff0000"/>
<rect x="795" y="195" width="3" height="35" fill="#ff3300"/>
<rect x="804" y="181" width="1" height="74" fill="#32cd32"/>
<rect x="802" y="194" width="5" height="49" fill="#32cd32"/>
<rect x="812" y="214" width="1" height="67" fill="#ff0000"/>
<rect x="810" y="227" width="5" height="17" fill="#ff0000"/>
<rect x="811" y="228" width="3" height="15" fill="#ff3300"/>
<rect x="820" y="151" width="1" height="78" fill="#ff0000"/>
<rect x="818" y="183" width="5" height="46" fill="#ff0000"/>
<rect x="819" y="184" width="3" height="44" fill="#ff3300"/>
<rect x="828" y="174" width="1" height="28" fill="#32cd32"/>
<rect x="826" y="189" width="5" height="12" fill="#32cd32"/>
<rect x="836" y="133" width="1" height="86" fill="#ff0000"/>
<rect x="834" y="147" width="5" height="53" fill="#ff0000"/>
<rect x="835" y="148" width="3" height="51" fill="#ff3300"/>
<rect x="844" y="83" width="1" height="67" fill="#ff0000"/>
<rect x="842" y="89" width="5" height="57" fill="#ff0000"/>
<rect x="843" y="90" width="3" height="55" fill="#ff3300"/>
<rect x="852" y="89" width="1" height="60" fill="#32cd32"/>
<rect x="850" y="89" width="5" height="59" fill="#32cd32"/>
<rect x="860" y="120" width="1" height="59" fill="#32cd32"/>
<rect x="858" y="147" width="5" height="28" fill="#32cd32"/>
<rect x="868" y="150" width="1" height="64" fill="#32cd32"/>
<rect x="866" y="174" width="5" height="21" fill="#32cd32"/>
<rect x="876" y="184" width="1" height="8" fill="#32cd32"/>
<rect x="874" y="185" width="5" height="3" fill="#32cd32"/>
<rect x="884" y="130" width="1" height="59" fill="#ff0000"/>
<rect x="882" y="133" width="5" height="55" fill="#ff0000"/>
<rect x="883" y="134" width="3" height="53" fill="#ff3300"/>
<rect x="892" y="102" width="1" height="70" fill="#32cd32"/>
<rect x="890" y="133" width="5" height="32" fill="#32cd32"/>
<rect x="900" y="160" width="1" height="66" fill="#32cd32"/>
<rect x="898" y="164" width="5" height="54" fill="#32cd32"/>
<rect x="908" y="210" width="1" height="55" fill="#32cd32"/>
<rect x="906" y="217" width="5" height="34" fill="#32cd32"/>
<rect x="916" y="243" width="1" height="33" fill="#32cd32"/>
<rect x="914" y="251" width="5" height="21" fill="#32cd32"/>
<rect x="1160" y="173" width="6" height="6" fill="#ff0000"/><rect x="1162" y="175" width="2" height="2" fill="#fff"/>
<rect x="1160" y="249" width="6" height="6" fill="#00ff00"/><rect x="1162" y="251" width="2" height="2" fill="#fff"/>
<rect x="4" y="457" width="2" height="12" fill="#c0c0c0"/>
<rect x="11" y="457" width="3" height="10" fill="#c0c0c0"/>
<rect x="19" y="457" width="3" height="8" fill="#c0c0c0"/>
<rect x="27" y="457" width="3" height="7" fill="#c0c0c0"/>
<rect x="35" y="457" width="3" height="5" fill="#c0c0c0"/>
<rect x="43" y="455" width="3" height="2" fill="#c0c0c0"/>
<rect x="51" y="452" width="3" height="5" fill="#c0c0c0"/>
<rect x="59" y="450" width="3" height="7" fill="#c0c0c0"/>
<rect x="67" y="449" width="3" height="8" fill="#c0c0c0"/>
<rect x="75" y="447" width="3" height="10" fill="#c0c0c0"/>
<rect x="83" y="444" width="3" height="13" fill="#c0c0c0"/>
<rect x="91" y="442" width="3" height="15" fill="#c0c0c0"/>
<rect x="99" y="439" width="3" height="18" fill="#c0c0c0"/>
<rect x="107" y="437" width="3" height="20" fill="#c0c0c0"/>
<rect x="115" y="434" width="3" height="23" fill="#c0c0c0"/>
<rect x="123" y="433" width="3" height="24" fill="#c0c0c0"/>
<rect x="131" y="432" width="3" height="25" fill="#c0c0c0"/>
<rect x="139" y="432" width="3" height="25" fill="#c0c0c0"/>
<rect x="147" y="430" width="3" height="27" fill="#c0c0c0"/>
<rect x="155" y="431" width="3" height="26" fill="#c0c0c0"/>
<rect x="163" y="428" width="3" height="29" fill="#c0c0c0"/>
<rect x="171" y="426" width="3" height="31" fill="#c0c0c0"/>
<rect x="179" y="424" width="3" height="33" fill="#c0c0c0"/>
<rect x="187" y="423" width="3" height="34" fill="#c0c0c0"/>
<rect x="195" y="422" width="3" height="35" fill="#c0c0c0"/>
<rect x="203" y="422" width="3" height="35" fill="#c0c0c0"/>
<rect x="211" y="424" width="3" height="33" fill="#c0c0c0"/>
<rect x="219" y="430" width="3" height="27" fill="#c0c0c0"/>
<rect x="227" y="435" width="3" height="22" fill="#c0c0c0"/>
<rect x="235" y="437" width="3" height="20" fill="#c0c0c0"/>
<rect x="243" y="438" width="3" height="19" fill="#c0c0c0"/>
<rect x="251" y="440" width="3" height="17" fill="#c0c0c0"/>
<rect x="259" y="438" width="3" height="19" fill="#c0c0c0"/>
<rect x="267" y="435" width="3" height="22" fill="#c0c0c0"/>
<rect x="275" y="434" width="3" height="23" fill="#c0c0c0"/>
<rect x="283" y="435" width="3" height="22" fill="#c0c0c0"/>
<rect x="291" y="433" width="3" height="24" fill="#c0c0c0"/>
<rect x="299" y="431" width="3" height="26" fill="#c0c0c0"/>
<rect x="307" y="429" width="3" height="28" fill="#c0c0c0"/>
<rect x="315" y="428" width="3" height="29" fill="#c0c0c0"/>
<rect x="323" y="430" width="3" height="27" fill="#c0c0c0"/>
<rect x="331" y="433" width="3" height="24" fill="#c0c0c0"/>
<rect x="339" y="435" width="3" height="22" fill="#c0c0c0"/>
<rect x="347" y="437" width="3" height="20" fill="#c0c0c0"/>
<rect x="355" y="440" width="3" height="17" fill="#c0c0c0"/>
<rect x="363" y="442" width="3" height="15" fill="#c0c0c0"/>
<rect x="371" y="444" width="3" height="13" fill="#c0c0c0"/>
<rect x="379" y="448" width="3" height="9" fill="#c0c0c0"/>
<rect x="387" y="454" width="3" height="3" fill="#c0c0c0"/>
<rect x="395" y="457" width="3" height="2" fill="#c0c0c0"/>
<rect x="403" y="457" width="3" height="2" fill="#c0c0c0"/>
<rect x="411" y="457" width="3" height="4" fill="#c0c0c0"/>
<rect x="419" y="457" width="3" height="4" fill="#c0c0c0"/>
<rect x="427" y="457" width="3" height="4" fill="#c0c0c0"/>
<rect x="435" y="457" width="3" height="8" fill="#c0c0c0"/>
<rect x="443" y="457" width="3" height="10" fill="#c0c0c0"/>
<rect x="451" y="457" width="3" height="11" fill="#c0c0c0"/>
<rect x="459" y="457" width="3" height="15" fill="#c0c0c0"/>
<rect x="467" y="457" width="3" height="20" fill="#c0c0c0"/>
<rect x="475" y="457" width="3" height="24" fill="#c0c0c0"/>
<rect x="483" y="457" width="3" height="25" fill="#c0c0c0"/>
<rect x="491" y="457" width="3" height="25" fill="#c0c0c0"/>
<rect x="499" y="457" width="3" height="27" fill="#c0c0c0"/>
<rect x="507" y="457" width="3" height="28" fill="#c0c0c0"/>
<rect x="515" y="457" width="3" height="29" fill="#c0c0c0"/>
<rect x="523" y="457" width="3" height="29" fill="#c0c0c0"/>
<rect x="531" y="457" width="3" height="27" fill="#c0c0c0"/>
<rect x="539" y="457" width="3" height="25" fill="#c0c0c0"/>
<rect x="547" y="457" width="3" height="21" fill="#c0c0c0"/>
<rect x="555" y="457" width="3" height="18" fill="#c0c0c0"/>
<rect x="563" y="457" width="3" height="14" fill="#c0c0c0"/>
<rect x="571" y="457" width="3" height="8" fill="#c0c0c0"/>
<rect x="579" y="457" width="3" height="2" fill="#c0c0c0"/>
<rect x="587" y="454" width="3" height="3" fill="#c0c0c0"/>
<rect x="595" y="452" width="3" height="5" fill="#c0c0c0"/>
<rect x="603" y="452" width="3" height="5" fill="#c0c0c0"/>
<rect x="611" y="452" width="3" height="5" fill="#c0c0c0"/>
<rect x="619" y="452" width="3" height="5" fill="#c0c0c0"/>
<rect x="627" y="450" width="3" height="7" fill="#c0c0c0"/>
<rect x="635" y="448" width="3" height="9" fill="#c0c0c0"/>
<rect x="643" y="450" width="3" height="7" fill="#c0c0c0"/>
<rect x="651" y="451" width="3" height="6" fill="#c0c0c0"/>
<rect x="659" y="452" width="3" height="5" fill="#c0c0c0"/>
<rect x="667" y="451" width="3" height="6" fill="#c0c0c0"/>
<rect x="675" y="449" width="3" height="8" fill="#c0c0c0"/>
<rect x="683" y="450" width="3" height="7" fill="#c0c0c0"/>
<rect x="691" y="450" width="3" height="7" fill="#c0c0c0"/>
<rect x="699" y="450" width="3" height="7" fill="#c0c0c0"/>
<rect x="707" y="451" width="3" height="6" fill="#c0c0c0"/>
<rect x="715" y="451" width="3" height="6" fill="#c0c0c0"/>
<rect x="723" y="452" width="3" height="5" fill="#c0c0c0"/>
<rect x="731" y="451" width="3" height="6" fill="#c0c0c0"/>
<rect x="739" y="450" width="3" height="7" fill="#c0c0c0"/>
<rect x="747" y="448" width="3" height="9" fill="#c0c0c0"/>
<rect x="755" y="449" width="3" height="8" fill="#c0c0c0"/>
<rect x="763" y="447" width="3" height="10" fill="#c0c0c0"/>
<rect x="771" y="449" width="3" height="8" fill="#c0c0c0"/>
<rect x="779" y="450" width="3" height="7" fill="#c0c0c0"/>
<rect x="787" y="452" width="3" height="5" fill="#c0c0c0"/>
<rect x="795" y="453" width="3" height="4" fill="#c0c0c0"/>
<rect x="803" y="456" width="3" height="1" fill="#c0c0c0"/>
<rect x="811" y="457" width="3" height="1" fill="#c0c0c0"/>
<rect x="819" y="456" width="3" height="1" fill="#c0c0c0"/>
<rect x="827" y="456" width="3" height="1" fill="#c0c0c0"/>
<rect x="835" y="454" width="3" height="3" fill="#c0c0c0"/>
<rect x="843" y="448" width="3" height="9" fill="#c0c0c0"/>
<rect x="851" y="448" width="3" height="9" fill="#c0c0c0"/>
<rect x="859" y="448" width="3" height="9" fill="#c0c0c0"/>
<rect x="867" y="450" width="3" height="7" fill="#c0c0c0"/>
<rect x="875" y="452" width="3" height="5" fill="#c0c0c0"/>
<rect x="883" y="449" width="3" height="8" fill="#c0c0c0"/>
<rect x="891" y="451" width="3" height="6" fill="#c0c0c0"/>
<rect x="899" y="453" width="3" height="4" fill="#c0c0c0"/>
<rect x="907" y="457" width="3" height="1" fill="#c0c0c0"/>
<rect x="915" y="457" width="3" height="5" fill="#c0c0c0"/>
<path d="M206 425h22v1h-22zM197 426h9v1h-9zM228 426h5v1h-5zM189 427h8v1h-8zM233 427h5v1h-5zM183 428h6v1h-6zM238 428h4v1h-4zM178 429h5v1h-5zM242 429h4v1h-4zM173 430h5v1h-5zM246 430h4v1h-4zM168 431h5v1h-5zM250 431h4v1h-4zM163 432h5v1h-5zM254 432h5v1h-5zM327 432h26v1h-26zM158 433h5v1h-5zM259 433h8v1h-8zM319 433h8v1h-8zM353 433h6v1h-6zM153 434h5v1h-5zM267 434h7v1h-7zM312 434h7v1h-7zM359 434h7v1h-7zM148 435h5v1h-5zM274 435h6v1h-6zM304 435h8v1h-8zM366 435h6v1h-6zM143 436h5v1h-5zM280 436h24v1h-24zM372 436h5v1h-5zM139 437h4v1h-4zM377 437h3v1h-3zM135 438h4v1h-4zM380 438h3v1h-3zM131 439h4v1h-4zM383 439h3v1h-3zM127 440h4v1h-4zM386 440h3v1h-3zM123 441h4v1h-4zM389 441h3v1h-3zM119 442h4v1h-4zM392 442h3v1h-3zM115 443h4v1h-4zM395 443h3v1h-3zM111 444h4v1h-4zM398 444h3v1h-3zM107 445h4v1h-4zM401 445h3v1h-3zM104 446h3v1h-3zM404 446h3v1h-3zM101 447h3v1h-3zM407 447h2v1h-2zM98 448h3v1h-3zM409 448h3v1h-3zM95 449h3v1h-3zM412 449h2v1h-2zM746 449h57v1h-57zM897 449h5v1h-5zM93 450h2v1h-2zM414 450h3v1h-3zM664 450h82v1h-82zM803 450h5v1h-5zM891 450h6v1h-6zM902 450h7v1h-7zM90 451h3v1h-3zM417 451h2v1h-2zM647 451h17v1h-17zM808 451h6v1h-6zM883 451h8v1h-8zM909 451h5v1h-5zM87 452h3v1h-3zM419 452h4v1h-4zM641 452h6v1h-6zM814 452h7v1h-7zM874 452h9v1h-9zM914 452h3v1h-3zM84 453h3v1h-3zM423 453h5v1h-5zM637 453h4v1h-4zM821 453h53v1h-53zM80 454h4v1h-4zM428 454h5v1h-5zM633 454h4v1h-4zM77 455h3v1h-3zM433 455h4v1h-4zM629 455h4v1h-4zM74 456h3v1h-3zM437 456h3v1h-3zM626 456h3v1h-3zM70 457h4v1h-4zM440 457h3v1h-3zM622 457h4v1h-4zM67 458h3v1h-3zM443 458h3v1h-3zM618 458h4v1h-4zM64 459h3v1h-3zM446 459h3v1h-3zM614 459h4v1h-4zM61 460h3v1h-3zM449 460h3v1h-3zM611 460h3v1h-3zM58 461h3v1h-3zM452 461h4v1h-4zM609 461h2v1h-2zM55 462h3v1h-3zM456 462h4v1h-4zM607 462h2v1h-2zM53 463h2v1h-2zM460 463h4v1h-4zM605 463h2v1h-2zM50 464h3v1h-3zM464 464h4v1h-4zM603 464h2v1h-2zM47 465h3v1h-3zM468 465h5v1h-5zM601 465h2v1h-2zM44 466h3v1h-3zM473 466h5v1h-5zM599 466h2v1h-2zM40 467h4v1h-4zM478 467h4v1h-4zM597 467h2v1h-2zM37 468h3v1h-3zM482 468h3v1h-3zM595 468h2v1h-2zM34 469h3v1h-3zM485 469h3v1h-3zM593 469h2v1h-2zM30 470h4v1h-4zM488 470h3v1h-3zM591 470h2v1h-2zM27 471h3v1h-3zM491 471h3v1h-3zM589 471h2v1h-2zM24 472h3v1h-3zM494 472h3v1h-3zM587 472h2v1h-2zM20 473h4v1h-4zM497 473h3v1h-3zM584 473h3v1h-3zM17 474h3v1h-3zM500 474h3v1h-3zM582 474h2v1h-2zM13 475h4v1h-4zM503 475h3v1h-3zM579 475h3v1h-3zM10 476h3v1h-3zM506 476h3v1h-3zM577 476h2v1h-2zM6 477h4v1h-4zM509 477h3v1h-3zM574 477h3v1h-3zM4 478h2v1h-2zM512 478h4v1h-4zM572 478h2v1h-2zM516 479h4v1h-4zM568 479h4v1h-4zM520 480h4v1h-4zM563 480h5v1h-5zM524 481h5v1h-5zM558 481h5v1h-5zM529 482h8v1h-8zM548 482h10v1h-10zM537 483h11v1h-11z" fill="#ff0000"/>
<line x1="4" y1="514.5" x2="1166" y2="514.5" stroke="#c0c0c0" stroke-width="1" stroke-dasharray="3,3" shape-rendering="crispEdges"/>
<line x1="4" y1="543.5" x2="1166" y2="543.5" stroke="#c0c0c0" stroke-width="1" stroke-dasharray="3,3" shape-rendering="crispEdges"/>
<path d="M148 511h1v1h-1zM147 512h1v1h-1zM149 512h1v1h-1zM192 512h6v1h-6zM115 513h3v1h-3zM146 513h1v1h-1zM150 513h2v1h-2zM175 513h17v1h-17zM198 513h2v1h-2zM113 514h2v1h-2zM118 514h3v1h-3zM144 514h2v1h-2zM152 514h1v1h-1zM171 514h4v1h-4zM200 514h2v1h-2zM100 515h5v1h-5zM111 515h2v1h-2zM121 515h3v1h-3zM143 515h1v1h-1zM153 515h1v1h-1zM167 515h4v1h-4zM202 515h2v1h-2zM45 516h1v1h-1zM97 516h3v1h-3zM105 516h6v1h-6zM124 516h3v1h-3zM142 516h1v1h-1zM154 516h2v1h-2zM163 516h4v1h-4zM204 516h2v1h-2zM306 516h4v1h-4zM43 517h2v1h-2zM46 517h2v1h-2zM84 517h5v1h-5zM94 517h3v1h-3zM127 517h4v1h-4zM141 517h1v1h-1zM156 517h1v1h-1zM159 517h4v1h-4zM206 517h2v1h-2zM268 517h3v1h-3zM302 517h4v1h-4zM310 517h4v1h-4zM42 518h1v1h-1zM48 518h2v1h-2zM80 518h4v1h-4zM89 518h5v1h-5zM131 518h10v1h-10zM157 518h2v1h-2zM208 518h1v1h-1zM265 518h3v1h-3zM271 518h4v1h-4zM297 518h5v1h-5zM314 518h3v1h-3zM41 519h1v1h-1zM50 519h2v1h-2zM77 519h3v1h-3zM209 519h1v1h-1zM262 519h3v1h-3zM275 519h2v1h-2zM293 519h4v1h-4zM317 519h2v1h-2zM578 519h4v1h-4zM844 519h1v1h-1zM39 520h2v1h-2zM52 520h5v1h-5zM75 520h2v1h-2zM210 520h2v1h-2zM260 520h2v1h-2zM277 520h2v1h-2zM291 520h2v1h-2zM319 520h1v1h-1zM574 520h4v1h-4zM582 520h4v1h-4zM764 520h1v1h-1zM842 520h2v1h-2zM845 520h1v1h-1zM38 521h1v1h-1zM57 521h6v1h-6zM73 521h2v1h-2zM212 521h1v1h-1zM258 521h2v1h-2zM279 521h1v1h-1zM289 521h2v1h-2zM320 521h2v1h-2zM571 521h3v1h-3zM586 521h4v1h-4zM762 521h2v1h-2zM765 521h1v1h-1zM840 521h2v1h-2zM846 521h2v1h-2zM36 522h2v1h-2zM63 522h2v1h-2zM71 522h2v1h-2zM213 522h1v1h-1zM257 522h1v1h-1zM280 522h2v1h-2zM287 522h2v1h-2zM322 522h2v1h-2zM569 522h2v1h-2zM590 522h3v1h-3zM628 522h4v1h-4zM744 522h5v1h-5zM761 522h1v1h-1zM766 522h1v1h-1zM839 522h1v1h-1zM848 522h1v1h-1zM35 523h1v1h-1zM65 523h2v1h-2zM69 523h2v1h-2zM214 523h1v1h-1zM256 523h1v1h-1zM282 523h2v1h-2zM285 523h2v1h-2zM324 523h2v1h-2zM567 523h2v1h-2zM593 523h3v1h-3zM626 523h2v1h-2zM632 523h5v1h-5zM728 523h16v1h-16zM749 523h2v1h-2zM760 523h1v1h-1zM767 523h1v1h-1zM837 523h2v1h-2zM849 523h1v1h-1zM34 524h1v1h-1zM67 524h2v1h-2zM215 524h1v1h-1zM242 524h7v1h-7zM254 524h2v1h-2zM284 524h1v1h-1zM326 524h4v1h-4zM565 524h2v1h-2zM596 524h5v1h-5zM624 524h2v1h-2zM637 524h1v1h-1zM672 524h6v1h-6zM690 524h4v1h-4zM723 524h5v1h-5zM751 524h2v1h-2zM758 524h2v1h-2zM768 524h1v2h-1zM835 524h2v1h-2zM850 524h2v1h-2zM884 524h2v1h-2zM32 525h2v1h-2zM216 525h1v2h-1zM238 525h4v1h-4zM249 525h5v1h-5zM330 525h6v1h-6zM563 525h2v1h-2zM601 525h5v1h-5zM623 525h1v1h-1zM638 525h2v1h-2zM667 525h5v1h-5zM678 525h4v1h-4zM686 525h4v1h-4zM694 525h4v1h-4zM720 525h3v1h-3zM753 525h2v1h-2zM757 525h1v1h-1zM833 525h2v1h-2zM852 525h2v1h-2zM882 525h2v1h-2zM886 525h2v1h-2zM4 526h3v1h-3zM31 526h1v1h-1zM235 526h3v1h-3zM336 526h14v1h-14zM362 526h4v1h-4zM561 526h2v1h-2zM606 526h4v1h-4zM621 526h2v1h-2zM640 526h1v1h-1zM651 526h3v1h-3zM664 526h3v1h-3zM682 526h4v1h-4zM698 526h4v1h-4zM718 526h2v1h-2zM755 526h2v1h-2zM769 526h1v1h-1zM779 526h2v1h-2zM831 526h2v1h-2zM854 526h4v1h-4zM880 526h2v1h-2zM888 526h3v1h-3zM7 527h6v1h-6zM30 527h1v1h-1zM217 527h1v1h-1zM233 527h2v1h-2zM350 527h4v1h-4zM358 527h4v1h-4zM366 527h2v1h-2zM559 527h2v1h-2zM610 527h11v1h-11zM641 527h1v1h-1zM648 527h3v1h-3zM654 527h4v1h-4zM662 527h2v1h-2zM702 527h4v1h-4zM712 527h6v1h-6zM770 527h1v1h-1zM776 527h3v1h-3zM781 527h1v1h-1zM819 527h5v1h-5zM829 527h2v1h-2zM858 527h4v1h-4zM879 527h1v1h-1zM891 527h2v1h-2zM13 528h8v1h-8zM28 528h2v1h-2zM218 528h1v1h-1zM231 528h2v1h-2zM354 528h4v1h-4zM368 528h3v1h-3zM419 528h3v1h-3zM548 528h4v1h-4zM557 528h2v1h-2zM642 528h2v1h-2zM646 528h2v1h-2zM658 528h4v1h-4zM706 528h6v1h-6zM771 528h1v1h-1zM774 528h2v1h-2zM782 528h2v1h-2zM795 528h2v1h-2zM816 528h3v1h-3zM824 528h5v1h-5zM862 528h4v1h-4zM877 528h2v1h-2zM893 528h2v1h-2zM21 529h7v1h-7zM219 529h1v1h-1zM229 529h2v1h-2zM371 529h3v1h-3zM404 529h2v1h-2zM417 529h2v1h-2zM422 529h4v1h-4zM546 529h2v1h-2zM552 529h5v1h-5zM644 529h2v1h-2zM772 529h2v1h-2zM784 529h1v1h-1zM793 529h2v1h-2zM797 529h2v1h-2zM814 529h2v1h-2zM866 529h11v1h-11zM895 529h2v1h-2zM220 530h9v1h-9zM374 530h4v1h-4zM403 530h1v1h-1zM406 530h2v1h-2zM415 530h2v1h-2zM426 530h3v1h-3zM544 530h2v1h-2zM785 530h1v1h-1zM791 530h2v1h-2zM799 530h1v1h-1zM811 530h3v1h-3zM897 530h2v1h-2zM378 531h3v1h-3zM402 531h1v1h-1zM408 531h3v1h-3zM413 531h2v1h-2zM429 531h2v1h-2zM543 531h1v1h-1zM786 531h2v1h-2zM789 531h2v1h-2zM800 531h2v1h-2zM808 531h3v1h-3zM899 531h3v1h-3zM381 532h1v1h-1zM400 532h2v1h-2zM411 532h2v1h-2zM431 532h1v1h-1zM532 532h4v1h-4zM541 532h2v1h-2zM788 532h1v1h-1zM802 532h2v1h-2zM806 532h2v1h-2zM902 532h2v1h-2zM382 533h2v1h-2zM399 533h1v1h-1zM432 533h2v1h-2zM448 533h6v1h-6zM530 533h2v1h-2zM536 533h5v1h-5zM804 533h2v1h-2zM904 533h3v1h-3zM384 534h1v1h-1zM398 534h1v1h-1zM434 534h2v1h-2zM440 534h8v1h-8zM454 534h2v1h-2zM529 534h1v1h-1zM907 534h5v1h-5zM385 535h1v1h-1zM397 535h1v1h-1zM436 535h4v1h-4zM456 535h3v1h-3zM528 535h1v1h-1zM912 535h5v1h-5zM386 536h2v1h-2zM392 536h5v1h-5zM459 536h2v1h-2zM483 536h5v1h-5zM526 536h2v1h-2zM388 537h4v1h-4zM461 537h2v1h-2zM481 537h2v1h-2zM488 537h8v1h-8zM525 537h1v1h-1zM463 538h2v1h-2zM479 538h2v1h-2zM496 538h8v1h-8zM512 538h13v1h-13zM465 539h2v1h-2zM477 539h2v1h-2zM504 539h8v1h-8zM467 540h10v1h-10z" fill="#1e90ff"/>
<rect x="3" y="24" width="1164" height="1" fill="#000"/>
<rect x="3" y="24" width="1" height="542" fill="#000"/>
<rect x="1166" y="24" width="1" height="542" fill="#000"/>
<rect x="3" y="415" width="1164" height="1" fill="#000"/>
<rect x="3" y="416" width="1" height="1" fill="#fff"/>
<rect x="1166" y="416" width="1" height="1" fill="#fff"/>
<rect x="3" y="417" width="1164" height="1" fill="#000"/>
<rect x="3" y="489" width="1164" height="1" fill="#000"/>
<rect x="3" y="490" width="1" height="1" fill="#fff"/>
<rect x="1166" y="490" width="1" height="1" fill="#fff"/>
<rect x="3" y="491" width="1164" height="1" fill="#000"/>
<rect x="3" y="565" width="1164" height="1" fill="#000"/>
<rect x="3" y="173" width="6" height="6" fill="#ff0000"/><rect x="5" y="175" width="2" height="2" fill="#fff"/>
<rect x="3" y="249" width="6" height="6" fill="#00ff00"/><rect x="5" y="251" width="2" height="2" fill="#fff"/>
<rect x="1166" y="91" width="2" height="2" fill="#ff0000"/>
<rect x="1166" y="175" width="2" height="2" fill="#ff0000"/>
<rect x="1166" y="251" width="2" height="2" fill="#00ff00"/>
<rect x="1166" y="333" width="2" height="2" fill="#0000ff"/>
<rect x="1166" y="407" width="2" height="2" fill="#0000ff"/>
<rect x="1167" y="49" width="2" height="1" fill="#000"/>
<rect x="1167" y="82" width="2" height="1" fill="#000"/>
<rect x="1167" y="115" width="2" height="1" fill="#000"/>
<rect x="1167" y="148" width="2" height="1" fill="#000"/>
<rect x="1167" y="181" width="2" height="1" fill="#000"/>
<rect x="1167" y="214" width="2" height="1" fill="#000"/>
<rect x="1167" y="247" width="2" height="1" fill="#000"/>
<rect x="1167" y="280" width="2" height="1" fill="#000"/>
<rect x="1167" y="313" width="2" height="1" fill="#000"/>
<rect x="1167" y="346" width="2" height="1" fill="#000"/>
<rect x="1167" y="379" width="2" height="1" fill="#000"/>
<rect x="1167" y="412" width="2" height="1" fill="#000"/>
<rect x="1167" y="419" width="2" height="1" fill="#000"/>
<rect x="1167" y="457" width="2" height="1" fill="#000"/>
<rect x="1167" y="488" width="2" height="1" fill="#000"/>
<rect x="1167" y="492" width="2" height="1" fill="#000"/>
<rect x="1167" y="514" width="2" height="1" fill="#000"/>
<rect x="1167" y="543" width="2" height="1" fill="#000"/>
<rect x="1167" y="564" width="2" height="1" fill="#000"/>
<rect x="4" y="566" width="1" height="3" fill="#000"/>
<rect x="68" y="566" width="1" height="3" fill="#000"/>
<rect x="132" y="566" width="1" height="3" fill="#000"/>
<rect x="196" y="566" width="1" height="3" fill="#000"/>
<rect x="260" y="566" width="1" height="3" fill="#000"/>
<rect x="324" y="566" width="1" height="3" fill="#000"/>
<rect x="388" y="566" width="1" height="3" fill="#000"/>
<rect x="452" y="566" width="1" height="3" fill="#000"/>
<rect x="516" y="566" width="1" height="3" fill="#000"/>
<rect x="580" y="566" width="1" height="3" fill="#000"/>
<rect x="644" y="566" width="1" height="3" fill="#000"/>
<rect x="708" y="566" width="1" height="3" fill="#000"/>
<rect x="772" y="566" width="1" height="3" fill="#000"/>
<rect x="836" y="566" width="1" height="3" fill="#000"/>
<rect x="900" y="566" width="1" height="3" fill="#000"/>
</svg>
<div class="pl" style="top:170px;background:#ff0000"></div>
<div class="pl" style="top:86px;background:#ff0000"></div>
<div class="pl" style="top:246px;background:#00ff00"></div>
<div class="pl" style="top:266px;background:#000"></div>
<div class="pl" style="top:328px;background:#0000ff"></div>
<div class="pl" style="top:402px;background:#0000ff"></div>
<svg width="8" height="4" style="left:7px;top:31px" viewBox="0 0 8 4"><polygon points="0,0 8,0 4,4" fill="#000"/></svg>
<div id="tabbar"></div><div id="tabr586"></div><div id="tabr587"></div><div id="tabline"></div><div id="tabr589"></div><div id="tablow"></div><div id="tablow2"></div><div id="tablow3"></div><div id="tableft"></div><div id="activehl"></div>
<div id="active"></div>
<div class="tsep" style="left:105px"></div>
<div class="tsep" style="left:213px"></div>
<div class="tsep" style="left:321px"></div>
<div class="tsep" style="left:649px"></div>
<div class="tsep" style="left:744px"></div>
<div class="tsep" style="left:837px"></div>
<div class="tsep" style="left:925px"></div>
<div class="tsep" style="left:1009px"></div>
<div class="tsep" style="left:1089px"></div>
<div class="arr" style="left:1182px;border-right:3px solid #a0a0a0"></div><div class="arr" style="left:1201px;border-left:3px solid #a0a0a0"></div>
<div class="t" id="t0" style="left:0.40px;top:0.00px;font-size:10.2px;color:#3a3a3a;transform:scaleX(0.8333);">5</div>
<div class="t" id="t1" style="left:15.70px;top:0.00px;font-size:10.2px;color:#3a3a3a;transform:scaleX(0.8634);">M30</div>
<div class="t" id="t2" style="left:46.80px;top:0.00px;font-size:10.2px;color:#3a3a3a;transform:scaleX(0.8385);">H1</div>
<div class="t" id="t3" style="left:73.70px;top:0.00px;font-size:10.2px;color:#3a3a3a;transform:scaleX(0.8984);">H4</div>
<div class="t" id="t4" style="left:102.80px;top:0.00px;font-size:10.2px;color:#3a3a3a;transform:scaleX(0.8385);">D1</div>
<div class="t" id="t5" style="left:130.00px;top:0.00px;font-size:10.2px;color:#3a3a3a;transform:scaleX(0.9094);">W1</div>
<div class="t" id="t6" style="left:156.60px;top:0.00px;font-size:10.2px;color:#3a3a3a;transform:scaleX(0.9363);">MN</div>
<div class="t" id="t7" style="left:19.50px;top:24.00px;font-size:10.1px;color:#000;transform:scaleX(0.9338);-webkit-text-stroke:0.15px;">USDCAD-,Daily</div>
<div class="t" id="t8" style="left:94.60px;top:24.00px;font-size:10.1px;color:#000;transform:scaleX(0.8706);-webkit-text-stroke:0.15px;">1.26305</div>
<div class="t" id="t9" style="left:130.60px;top:24.00px;font-size:10.1px;color:#000;transform:scaleX(0.8760);-webkit-text-stroke:0.15px;">1.26453</div>
<div class="t" id="t10" style="left:166.80px;top:24.00px;font-size:10.1px;color:#000;transform:scaleX(0.8651);-webkit-text-stroke:0.15px;">1.25941</div>
<div class="t" id="t11" style="left:202.60px;top:24.00px;font-size:10.1px;color:#000;transform:scaleX(0.8760);-webkit-text-stroke:0.15px;">1.25993</div>
<div class="t" id="t12" style="left:8.60px;top:418.00px;font-size:10.1px;color:#000;transform:scaleX(0.9332);-webkit-text-stroke:0.15px;">MACD(12,26,9)</div>
<div class="t" id="t13" style="left:77.50px;top:418.00px;font-size:10.1px;color:#000;transform:scaleX(0.8812);-webkit-text-stroke:0.15px;">-0.001026</div>
<div class="t" id="t14" style="left:121.70px;top:418.00px;font-size:10.1px;color:#000;transform:scaleX(0.8779);-webkit-text-stroke:0.15px;">0.001255</div>
<div class="t" id="t15" style="left:8.60px;top:492.00px;font-size:10.1px;color:#000;transform:scaleX(0.9037);-webkit-text-stroke:0.15px;">RSI(14)</div>
<div class="t" id="t16" style="left:43.00px;top:492.00px;font-size:10.1px;color:#000;transform:scaleX(0.8895);-webkit-text-stroke:0.15px;">40.7376</div>
<div class="t" id="t17" style="left:1172.80px;top:41.00px;font-size:10.1px;color:#000;transform:scaleX(0.8733);-webkit-text-stroke:0.15px;">1.29545</div>
<div class="t" id="t18" style="left:1172.80px;top:74.00px;font-size:10.1px;color:#000;transform:scaleX(0.8733);-webkit-text-stroke:0.15px;">1.29020</div>
<div class="t" id="t19" style="left:1172.80px;top:107.00px;font-size:10.1px;color:#000;transform:scaleX(0.8733);-webkit-text-stroke:0.15px;">1.28495</div>
<div class="t" id="t20" style="left:1172.80px;top:140.00px;font-size:10.1px;color:#000;transform:scaleX(0.8733);-webkit-text-stroke:0.15px;">1.27970</div>
<div class="t" id="t21" style="left:1172.80px;top:173.00px;font-size:10.1px;color:#000;transform:scaleX(0.8733);-webkit-text-stroke:0.15px;">1.27430</div>
<div class="t" id="t22" style="left:1172.80px;top:206.00px;font-size:10.1px;color:#000;transform:scaleX(0.8733);-webkit-text-stroke:0.15px;">1.26905</div>
<div class="t" id="t23" style="left:1172.80px;top:239.00px;font-size:10.1px;color:#000;transform:scaleX(0.8733);-webkit-text-stroke:0.15px;">1.26380</div>
<div class="t" id="t24" style="left:1172.80px;top:272.00px;font-size:10.1px;color:#000;transform:scaleX(0.8733);-webkit-text-stroke:0.15px;">1.25855</div>
<div class="t" id="t25" style="left:1172.80px;top:305.00px;font-size:10.1px;color:#000;transform:scaleX(0.8733);-webkit-text-stroke:0.15px;">1.25330</div>
<div class="t" id="t26" style="left:1172.80px;top:338.00px;font-size:10.1px;color:#000;transform:scaleX(0.8733);-webkit-text-stroke:0.15px;">1.24805</div>
<div class="t" id="t27" style="left:1172.80px;top:371.00px;font-size:10.1px;color:#000;transform:scaleX(0.8733);-webkit-text-stroke:0.15px;">1.24280</div>
<div class="t" id="t28" style="left:1172.80px;top:404.00px;font-size:10.1px;color:#000;transform:scaleX(0.8733);-webkit-text-stroke:0.15px;">1.23755</div>
<div class="t" id="t29" style="left:1170.80px;top:416.00px;font-size:10.1px;color:#000;transform:scaleX(0.8733);-webkit-text-stroke:0.15px;">0.009278</div>
<div class="t" id="t30" style="left:1170.80px;top:449.00px;font-size:10.1px;color:#000;transform:scaleX(0.8733);-webkit-text-stroke:0.15px;">0.00</div>
<div class="t" id="t31" style="left:1170.80px;top:474.00px;font-size:10.1px;color:#000;transform:scaleX(0.8733);-webkit-text-stroke:0.15px;">-0.007504</div>
<div class="t" id="t32" style="left:1170.80px;top:490.00px;font-size:10.1px;color:#000;transform:scaleX(0.8733);-webkit-text-stroke:0.15px;">100</div>
<div class="t" id="t33" style="left:1170.80px;top:506.00px;font-size:10.1px;color:#000;transform:scaleX(0.8733);-webkit-text-stroke:0.15px;">70</div>
<div class="t" id="t34" style="left:1170.80px;top:535.00px;font-size:10.1px;color:#000;transform:scaleX(0.8733);-webkit-text-stroke:0.15px;">30</div>
<div class="t" id="t35" style="left:1170.80px;top:550.00px;font-size:10.1px;color:#000;transform:scaleX(0.8733);-webkit-text-stroke:0.15px;">0</div>
<div class="t" id="t36" style="left:3.00px;top:566.00px;font-size:10.1px;color:#000;transform:scaleX(0.9344);-webkit-text-stroke:0.15px;">5 Nov 2021</div>
<div class="t" id="t37" style="left:67.70px;top:566.00px;font-size:10.1px;color:#000;transform:scaleX(0.9145);-webkit-text-stroke:0.15px;">15 Nov 2021</div>
<div class="t" id="t38" style="left:131.30px;top:566.00px;font-size:10.1px;color:#000;transform:scaleX(0.9145);-webkit-text-stroke:0.15px;">24 Nov 2021</div>
<div class="t" id="t39" style="left:195.10px;top:566.00px;font-size:10.1px;color:#000;transform:scaleX(0.8882);-webkit-text-stroke:0.15px;">3 Dec 2021</div>
<div class="t" id="t40" style="left:260.00px;top:566.00px;font-size:10.1px;color:#000;transform:scaleX(0.8676);-webkit-text-stroke:0.15px;">13 Dec 2021</div>
<div class="t" id="t41" style="left:323.50px;top:566.00px;font-size:10.1px;color:#000;transform:scaleX(0.8798);-webkit-text-stroke:0.15px;">22 Dec 2021</div>
<div class="t" id="t42" style="left:387.30px;top:566.00px;font-size:10.1px;color:#000;transform:scaleX(0.8781);-webkit-text-stroke:0.15px;">31 Dec 2021</div>
<div class="t" id="t43" style="left:451.90px;top:566.00px;font-size:10.1px;color:#000;transform:scaleX(0.8793);-webkit-text-stroke:0.15px;">10 Jan 2022</div>
<div class="t" id="t44" style="left:516.00px;top:566.00px;font-size:10.1px;color:#000;transform:scaleX(0.8686);-webkit-text-stroke:0.15px;">19 Jan 2022</div>
<div class="t" id="t45" style="left:579.50px;top:566.00px;font-size:10.1px;color:#000;transform:scaleX(0.8775);-webkit-text-stroke:0.15px;">28 Jan 2022</div>
<div class="t" id="t46" style="left:643.50px;top:566.00px;font-size:10.1px;color:#000;transform:scaleX(0.8978);-webkit-text-stroke:0.15px;">7 Feb 2022</div>
<div class="t" id="t47" style="left:707.30px;top:566.00px;font-size:10.1px;color:#000;transform:scaleX(0.8919);-webkit-text-stroke:0.15px;">16 Feb 2022</div>
<div class="t" id="t48" style="left:771.30px;top:566.00px;font-size:10.1px;color:#000;transform:scaleX(0.8989);-webkit-text-stroke:0.15px;">25 Feb 2022</div>
<div class="t" id="t49" style="left:835.10px;top:566.00px;font-size:10.1px;color:#000;transform:scaleX(0.9039);-webkit-text-stroke:0.15px;">7 Mar 2022</div>
<div class="t" id="t50" style="left:900.00px;top:566.00px;font-size:10.1px;color:#000;transform:scaleX(0.8885);-webkit-text-stroke:0.15px;">16 Mar 2022</div>
<div class="t" id="t51" style="left:15.24px;top:589.00px;font-size:13px;color:#6a6a6a;transform:scaleX(0.9557);">USDX,Weekly</div>
<div class="t" id="t52" style="left:115.07px;top:589.00px;font-size:13px;color:#6a6a6a;transform:scaleX(0.9350);">EURUSD-,Daily</div>
<div class="t" id="t53" style="left:223.00px;top:589.00px;font-size:13px;color:#6a6a6a;transform:scaleX(0.9433);">AUDUSD-,Daily</div>
<div class="t" id="t54" style="left:331.88px;top:589.00px;font-size:13px;color:#6a6a6a;transform:scaleX(0.9249);">USDCHF-,Daily</div>
<div class="t" id="t55" style="left:548.55px;top:589.00px;font-size:13px;color:#6a6a6a;transform:scaleX(0.9495);">USDCNH-,Daily</div>
<div class="t" id="t56" style="left:660.00px;top:589.00px;font-size:13px;color:#6a6a6a;transform:scaleX(0.9401);">XAUUSD-,H1</div>
<div class="t" id="t57" style="left:755.02px;top:589.00px;font-size:13px;color:#6a6a6a;transform:scaleX(0.9775);">UKOil-,Daily</div>
<div class="t" id="t58" style="left:848.76px;top:589.00px;font-size:13px;color:#6a6a6a;transform:scaleX(0.9418);">DJ30-,Daily</div>
<div class="t" id="t59" style="left:935.53px;top:589.00px;font-size:13px;color:#6a6a6a;transform:scaleX(0.9686);">UK100-,H1</div>
<div class="t" id="t60" style="left:1020.33px;top:589.00px;font-size:13px;color:#6a6a6a;transform:scaleX(0.9725);">USOil-,H1</div>
<div class="t" id="t61" style="left:1098.74px;top:589.00px;font-size:13px;color:#6a6a6a;transform:scaleX(0.9629);">HK50-,Daily</div>
<div class="t" id="t62" style="left:439.05px;top:589.00px;font-size:13px;color:#000;transform:scaleX(0.9471);">USDCAD-,Daily</div>
<div class="t" id="t63" style="left:1172.80px;top:167.00px;font-size:10.1px;color:#fff;z-index:3;transform:scaleX(0.8624);-webkit-text-stroke:0.15px;">1.27515</div>
<div class="t" id="t64" style="left:1172.80px;top:83.00px;font-size:10.1px;color:#fff;z-index:3;transform:scaleX(0.8624);-webkit-text-stroke:0.15px;">1.28851</div>
<div class="t" id="t65" style="left:1172.80px;top:243.00px;font-size:10.1px;color:#fff;z-index:3;transform:scaleX(0.8624);-webkit-text-stroke:0.15px;">1.26306</div>
<div class="t" id="t66" style="left:1172.80px;top:263.00px;font-size:10.1px;color:#fff;z-index:3;transform:scaleX(0.8624);-webkit-text-stroke:0.15px;">1.25993</div>
<div class="t" id="t67" style="left:1172.80px;top:325.00px;font-size:10.1px;color:#fff;z-index:3;transform:scaleX(0.8624);-webkit-text-stroke:0.15px;">1.24995</div>
<div class="t" id="t68" style="left:1172.80px;top:399.00px;font-size:10.1px;color:#fff;z-index:3;transform:scaleX(0.8624);-webkit-text-stroke:0.15px;">1.23810</div>
</body></html>
